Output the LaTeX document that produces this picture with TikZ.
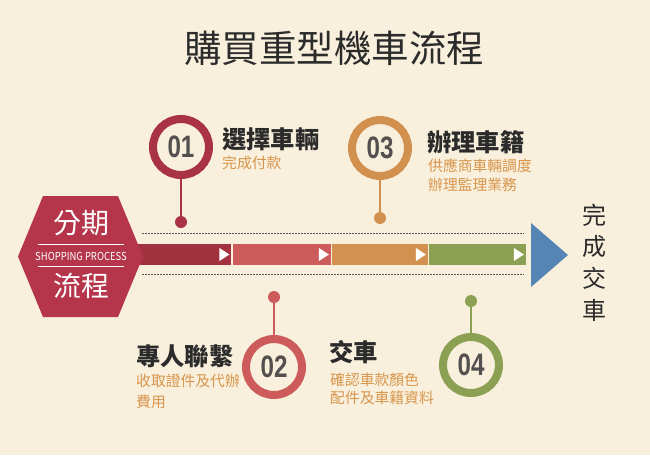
\documentclass[tikz,border=0pt]{standalone}
\usepackage{fontspec}
\setmainfont{Noto Sans CJK TC}
\newfontfamily\digitfont{Liberation Sans}
\definecolor{bg}{HTML}{F8EFDC}
\definecolor{hexred}{HTML}{B5364A}
\definecolor{barA}{HTML}{A3323F}
\definecolor{ringA}{HTML}{A93243}
\definecolor{barB}{HTML}{CD5B5B}
\definecolor{barC}{HTML}{D39150}
\definecolor{barD}{HTML}{8BA052}
\definecolor{arrowblue}{HTML}{5585B5}
\definecolor{darktext}{HTML}{2B2B2B}
\definecolor{digitgray}{HTML}{555050}
\definecolor{subor}{HTML}{D8964C}
\definecolor{dashgray}{HTML}{555555}
\tikzset{
  ring/.style={circle, draw=#1, line width=8pt, minimum size=56pt, inner sep=0pt,
    font=\digitfont\bfseries\fontsize{31}{31}\selectfont, text=digitgray},
  dotnode/.style={circle, fill=#1, minimum size=12pt, inner sep=0pt},
  stem/.style={line width=2pt, draw=#1},
  seg/.style={fill=#1, minimum height=21pt, inner sep=0pt, anchor=west},
  headtext/.style={font=\bfseries\fontsize{24.3}{24.3}\selectfont, text=darktext, anchor=west, inner sep=0pt},
  subtext/.style={font=\fontsize{14.8}{14.8}\selectfont, text=subor, anchor=west, inner sep=0pt},
  dashline/.style={draw=dashgray, line width=0.9pt, dash pattern=on 2pt off 1pt},
  segtri/.style={fill=white}
}
\newcommand{\digs}[1]{\scalebox{0.78}[1]{#1}}
\begin{document}
\begin{tikzpicture}[x=1pt,y=-1pt]
\fill[bg] (0,0) rectangle (650,455);
\useasboundingbox (0,0) rectangle (650,455);

% title
\node[font=\fontsize{37.5}{37.5}\selectfont, text=darktext] (title) at (334,48) {購買重型機車流程};

% dashed guide lines
\coordinate (dlA) at (142,233);
\coordinate (dlB) at (524,233);
\coordinate (dlC) at (142,274);
\coordinate (dlD) at (524,274);
\draw[dashline] (dlA) -- (dlB);
\draw[dashline] (dlC) -- (dlD);

% bar segments
\node[seg=barA, minimum width=101pt] (s1) at (130,254.5) {};
\node[seg=barB, minimum width=98pt] (s2) at (232.5,254.5) {};
\node[seg=barC, minimum width=96pt] (s3) at (331.5,254.5) {};
\node[seg=barD, minimum width=97pt] (s4) at (428.5,254.5) {};
\foreach \s in {s1,s2,s3,s4}{
  \fill[segtri] ([xshift=-12pt,yshift=-6.5pt]\s.east) -- ([xshift=-2pt]\s.east) -- ([xshift=-12pt,yshift=6.5pt]\s.east) -- cycle;
}

% blue arrow
\coordinate (ba1) at (531,223);
\coordinate (ba2) at (568,255);
\coordinate (ba3) at (531,287);
\fill[arrowblue] (ba1) -- (ba2) -- (ba3) -- cycle;

% finish text
\node[font=\fontsize{24}{31.7}\selectfont, text=darktext, align=center, inner sep=0pt] (finish) at (594,262.5) {完\\成\\交\\車};

% hexagon
\coordinate (h1) at (18,256.5);
\coordinate (h2) at (43,196);
\coordinate (h3) at (118,196);
\coordinate (h4) at (143,256.5);
\coordinate (h5) at (118,317);
\coordinate (h6) at (43,317);
\fill[hexred] (h1) -- (h2) -- (h3) -- (h4) -- (h5) -- (h6) -- cycle;
\node[font=\fontsize{28}{28}\selectfont, text=white, inner sep=0pt] (hexA) at (81,223) {分期};
\node[font=\fontsize{28}{28}\selectfont, text=white, inner sep=0pt] (hexB) at (81,286) {流程};
\node[font=\fontsize{11}{11}\selectfont, text=white, inner sep=0pt] (hexC) at (81,256) {\scalebox{0.86}[1]{SHOPPING PROCESS}};
\coordinate (l1a) at (38,244.5);
\coordinate (l1b) at (124,244.5);
\coordinate (l2a) at (38,266.5);
\coordinate (l2b) at (124,266.5);
\draw[white, line width=1pt] (l1a) -- (l1b);
\draw[white, line width=1pt] (l2a) -- (l2b);

% step 01
\node[ring=ringA] (c1) at (181,147) {\digs{01}};
\node[dotnode=ringA] (d1) at (181,222) {};
\draw[stem=ringA] (c1.south) -- (d1);
\node[headtext] (t1) at (222,139) {選擇車輛};
\node[subtext] (u1) at (222,163) {完成付款};

% step 03
\node[ring=barC] (c3) at (380,148) {\digs{03}};
\node[dotnode=barC] (d3) at (380,218) {};
\draw[stem=barC] (c3.south) -- (d3);
\node[headtext] (t3) at (427,142) {辦理車籍};
\node[subtext] (u3a) at (428,166) {供應商車輛調度};
\node[subtext] (u3b) at (428,185) {辦理監理業務};

% step 02
\node[ring=barB] (c2) at (274,367) {\digs{02}};
\node[dotnode=barB] (d2) at (274,297) {};
\draw[stem=barB] (d2) -- (c2.north);
\node[headtext] (t2) at (136,356) {專人聯繫};
\node[subtext] (u2a) at (136,381) {收取證件及代辦};
\node[subtext] (u2b) at (136,402) {費用};

% step 04
\node[ring=barD] (c4) at (471,365) {\digs{04}};
\node[dotnode=barD] (d4) at (471,301) {};
\draw[stem=barD] (d4) -- (c4.north);
\node[headtext] (t4) at (329,352) {交車};
\node[subtext] (u4a) at (330,380) {確認車款顏色};
\node[subtext] (u4b) at (330,398) {配件及車籍資料};
\end{tikzpicture}
\end{document}
